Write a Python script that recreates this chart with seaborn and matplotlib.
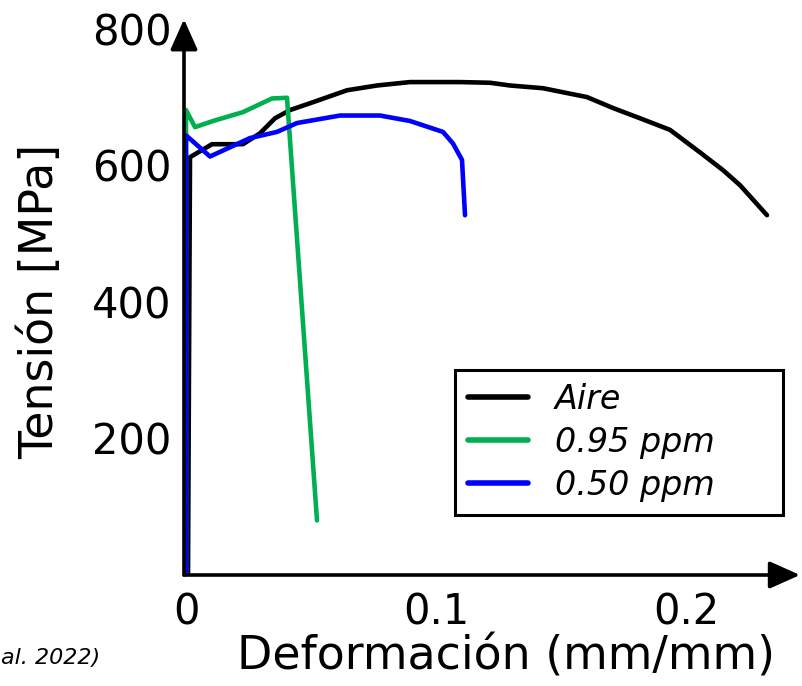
import matplotlib
matplotlib.use("Agg")
import matplotlib.pyplot as plt
import seaborn as sns
import pandas as pd
import numpy as np

# ---- data ----
aire_x = [0.0008, 0.0016, 0.0104, 0.0228, 0.0296, 0.0356, 0.0416, 0.0496, 0.0644,
          0.0764, 0.0896, 0.1096, 0.1216, 0.1296, 0.1428, 0.1604, 0.1708, 0.1816,
          0.1936, 0.2056, 0.2148, 0.2216, 0.2324]
aire_y = [0, 612, 631, 631, 647, 669, 681, 691, 710,
          717, 722, 722, 721, 717, 713, 700, 684, 669,
          652, 619, 593, 571, 527]

ppm095_x = [0.0, 0.0, 0.0036, 0.0108, 0.0228, 0.0344, 0.0404, 0.0524]
ppm095_y = [0, 681, 656, 665, 678, 698, 699, 80]

ppm050_x = [0.0, 0.0, 0.0096, 0.0256, 0.0364, 0.0444, 0.0616, 0.0776, 0.0896,
            0.1028, 0.1068, 0.1104, 0.1116]
ppm050_y = [0, 644, 613, 640, 649, 662, 673, 673, 665,
            649, 632, 608, 527]

series_names = ["Aire", "0.95 ppm", "0.50 ppm"]
series_colors = ["#000000", "#00B050", "#0000FF"]

x_ticks = [0, 0.1, 0.2]
x_ticklabels = ["0", "0.1", "0.2"]
y_ticks = [200, 400, 600, 800]
y_ticklabels = ["200", "400", "600", "800"]

frames = []
for name, xs, ys in zip(series_names, [aire_x, ppm095_x, ppm050_x],
                        [aire_y, ppm095_y, ppm050_y]):
    frames.append(pd.DataFrame({"x": xs, "y": ys, "serie": name,
                                "order": np.arange(len(xs))}))
df = pd.concat(frames, ignore_index=True)

sns.set_theme(style="white")
plt.rcParams["font.family"] = ["DejaVu Sans"]

fig = plt.figure(figsize=(8.02, 6.86), dpi=100)
ax = fig.add_axes([184 / 802, (686 - 575) / 686, 616 / 802, 553 / 686])

sns.lineplot(data=df, x="x", y="y", hue="serie", hue_order=series_names,
             palette=dict(zip(series_names, series_colors)), sort=False,
             estimator=None, units="serie", linewidth=3.3, ax=ax, legend=True)

ax.set_xlim(-0.0008, 0.2456)
ax.set_ylim(0, 810)

for s in ax.spines.values():
    s.set_visible(False)

ax.set_xticks(x_ticks)
ax.set_xticklabels(x_ticklabels)
ax.set_yticks(y_ticks)
ax.set_yticklabels(y_ticklabels)
ax.tick_params(axis="both", length=0, labelsize=30, colors="black")
ax.tick_params(axis="x", pad=12)
ax.tick_params(axis="y", pad=9)

# axis arrows
arrow_kw = dict(arrowstyle="-|>,head_length=0.85,head_width=0.38", lw=2.6,
                color="black", shrinkA=0, shrinkB=0, mutation_scale=22)
ax.annotate("", xy=(1.0, 0.0), xytext=(0.0, 0.0), xycoords="axes fraction",
            textcoords="axes fraction", arrowprops=arrow_kw, annotation_clip=False)
ax.annotate("", xy=(0.0, 1.005), xytext=(0.0, 0.0), xycoords="axes fraction",
            textcoords="axes fraction", arrowprops=arrow_kw, annotation_clip=False)

ax.set_xlabel("Deformación (mm/mm)", fontsize=33, color="black")
ax.set_ylabel("Tensión [MPa]", fontsize=33, color="black")
ax.xaxis.set_label_coords(0.523, -0.108)
ax.yaxis.set_label_coords(-0.197, 0.495)

leg = ax.legend(title=None, loc="lower left",
                bbox_to_anchor=(0.44, 0.108, 0.532, 0.266), mode="expand",
                fontsize=24, frameon=True, fancybox=False, framealpha=1,
                edgecolor="black", handlelength=1.8, handletextpad=0.8,
                labelspacing=0.3, borderpad=0.4, borderaxespad=0)
leg.get_frame().set_linewidth(2.2)
for t in leg.get_texts():
    t.set_fontstyle("italic")
    t.set_color("black")
for l in leg.get_lines():
    l.set_linewidth(4)

fig.text(0.001, (686 - 658) / 686, "al. 2022)", fontsize=16, fontstyle="italic",
         ha="left", va="center", color="black")

fig.savefig("out.png", dpi=100)
